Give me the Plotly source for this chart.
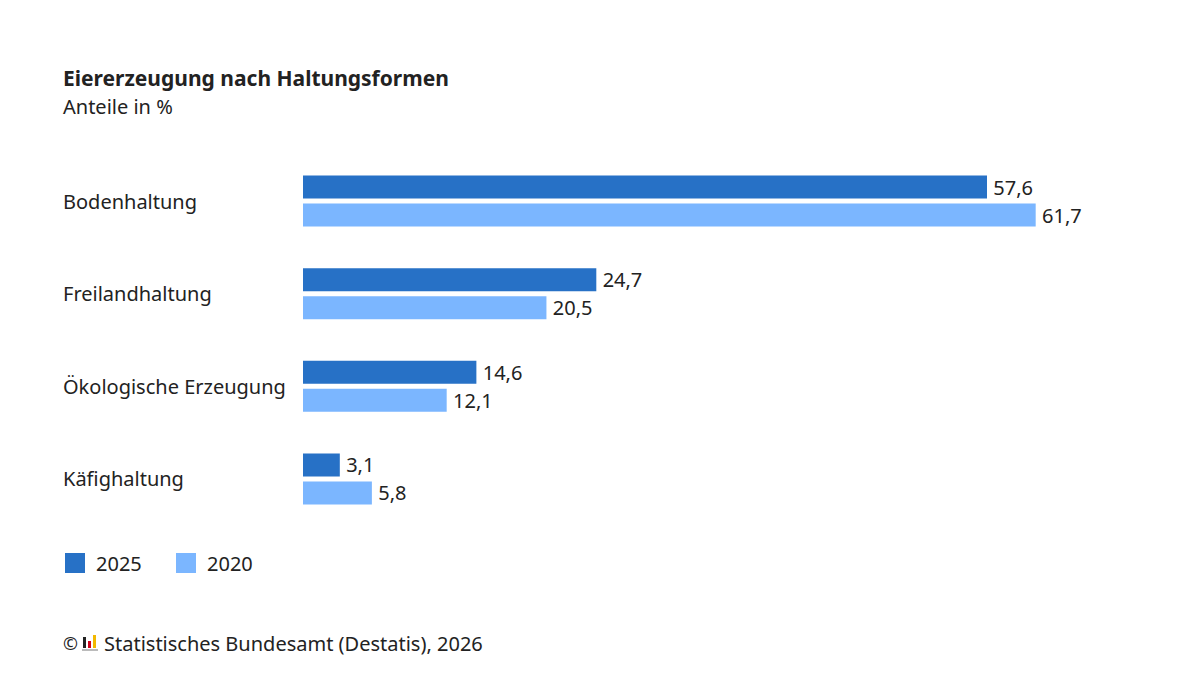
import plotly.graph_objects as go

categories = ["Bodenhaltung", "Freilandhaltung", "Ökologische Erzeugung", "Käfighaltung"]
values_2025 = [57.6, 24.7, 14.6, 3.1]
values_2020 = [61.7, 20.5, 12.1, 5.8]
series_names = ["2025", "2020"]

FONT = "Noto Sans"
TXT = "#222222"
C_DARK = "#2771C6"
C_LIGHT = "#7BB6FF"
W, H = 1200, 675

def fmt(v):
    return f"{v:.1f}".replace(".", ",")

fig = go.Figure()
for name, vals, col in [(series_names[0], values_2025, C_DARK), (series_names[1], values_2020, C_LIGHT)]:
    fig.add_trace(go.Bar(
        y=categories, x=vals, name=name, orientation="h",
        marker=dict(color=col, line=dict(width=0)),
        text=[fmt(v) for v in vals], textposition="outside",
        texttemplate="\u2009%{text}", constraintext="none",
        textfont=dict(family=FONT, size=20, color=TXT),
        cliponaxis=False, showlegend=False, hoverinfo="skip",
    ))

x0_px = 303
px_per_unit = 11.875
top_px, bot_px = 154.7, 525.3

def py(p):
    return 1 - p / H

fig.update_layout(
    width=W, height=H,
    paper_bgcolor="white", plot_bgcolor="white",
    margin=dict(l=0, r=0, t=0, b=0),
    barmode="group", bargap=0.395, bargroupgap=0.18,
    font=dict(family=FONT, color=TXT),
    xaxis=dict(domain=[x0_px / W, 1.0], range=[0, (W - x0_px) / px_per_unit],
               visible=False, showgrid=False, zeroline=False),
    yaxis=dict(domain=[py(bot_px), py(top_px)], visible=False, autorange="reversed",
               showgrid=False, zeroline=False),
    showlegend=False,
)

ann = []
ann.append(dict(text="<b>Eiererzeugung nach Haltungsformen</b>", xref="paper", yref="paper",
                x=61 / W, y=py(78), xanchor="left", yanchor="middle", showarrow=False,
                font=dict(family=FONT, size=21, color=TXT)))
ann.append(dict(text="Anteile in %", xref="paper", yref="paper",
                x=61 / W, y=py(107), xanchor="left", yanchor="middle", showarrow=False,
                font=dict(family=FONT, size=20, color=TXT)))
for c in categories:
    ann.append(dict(text=c, xref="paper", yref="y", x=61 / W, y=c, xanchor="left",
                    yanchor="middle", showarrow=False,
                    font=dict(family=FONT, size=20, color=TXT)))

shapes = []
leg_y = 563
for i, (name, col) in enumerate([(series_names[0], C_DARK), (series_names[1], C_LIGHT)]):
    sx = 65 + i * 111
    shapes.append(dict(type="rect", xref="paper", yref="paper",
                       x0=sx / W, x1=(sx + 20) / W, y0=py(leg_y + 10), y1=py(leg_y - 10),
                       fillcolor=col, line=dict(width=0)))
    ann.append(dict(text=name, xref="paper", yref="paper", x=(sx + 29) / W, y=py(leg_y),
                    xanchor="left", yanchor="middle", showarrow=False,
                    font=dict(family=FONT, size=20, color=TXT)))

foot_y = 643
ann.append(dict(text="©", xref="paper", yref="paper", x=61 / W, y=py(foot_y),
                xanchor="left", yanchor="middle", showarrow=False,
                font=dict(family=FONT, size=18, color=TXT)))
logo = [(83, 86, 637, 648, "#222222"), (88, 91, 641, 648, "#D0021B"), (93, 96, 635, 648, "#F2B800")]
for x0, x1, y0, y1, col in logo:
    shapes.append(dict(type="rect", xref="paper", yref="paper", x0=x0 / W, x1=x1 / W,
                       y0=py(y1), y1=py(y0), fillcolor=col, line=dict(width=0)))
shapes.append(dict(type="rect", xref="paper", yref="paper", x0=82 / W, x1=98 / W,
                   y0=py(651), y1=py(649), fillcolor="#BBBBBB", line=dict(width=0)))
ann.append(dict(text="Statistisches Bundesamt (Destatis), 2026", xref="paper", yref="paper",
                x=102 / W, y=py(foot_y), xanchor="left", yanchor="middle", showarrow=False,
                font=dict(family=FONT, size=20, color=TXT)))

fig.update_layout(annotations=ann, shapes=shapes)
fig.write_html("out.html", config={"displayModeBar": False, "staticPlot": True},
               post_script="document.body.style.margin='0';")
